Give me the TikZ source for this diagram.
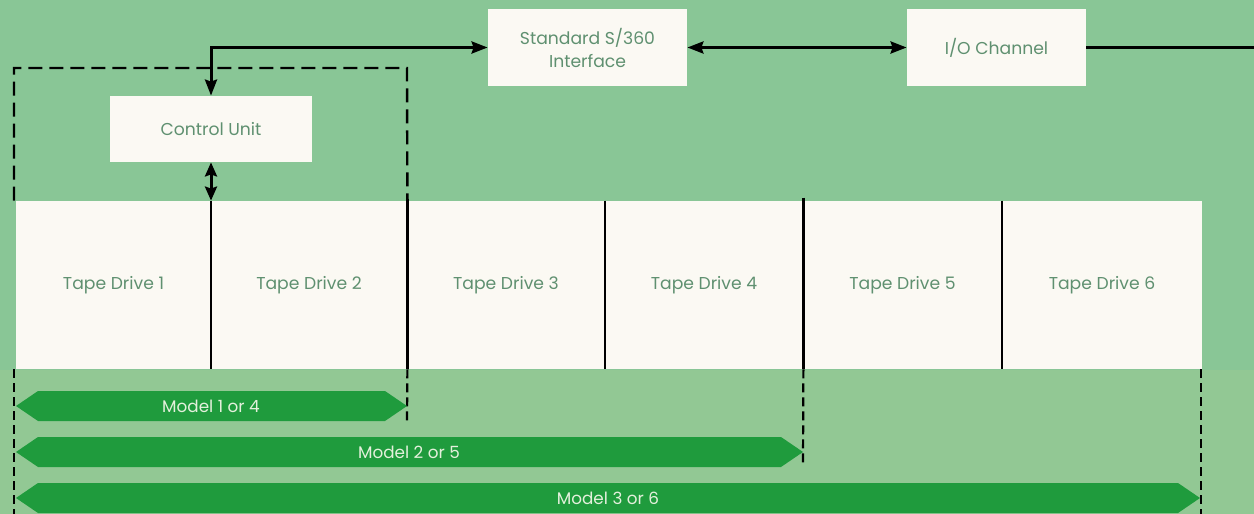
\documentclass[tikz,border=0pt]{standalone}
\usepackage{fontspec}
\setmainfont{Poppins}
\usetikzlibrary{arrows.meta,calc}
\definecolor{bgtop}{HTML}{89C696}
\definecolor{bgbot}{HTML}{92C894}
\definecolor{boxfill}{HTML}{FBF9F3}
\definecolor{txt}{HTML}{5F9070}
\definecolor{band}{HTML}{1F9B3D}
\definecolor{bandtxt}{HTML}{E4F0DC}
\begin{document}
\begin{tikzpicture}[x=0.5pt,y=-0.5pt,
  >={Stealth[length=8pt,width=6pt,inset=1pt]},
  box/.style={fill=boxfill, inner sep=0pt, text=txt, font=\fontsize{8.6}{11.5}\selectfont, align=center},
  tape/.style={box, minimum height=84pt},
  conn/.style={draw=black, line width=1.5pt},
  thindiv/.style={draw=black, line width=1pt},
  thickdiv/.style={draw=black, line width=1.9pt},
  dashtop/.style={draw=black, line width=1.2pt, dash pattern=on 7pt off 3.5pt},
  dashlow/.style={draw=black, line width=1.1pt, dash pattern=on 4.5pt off 2.5pt},
  bandtext/.style={text=bandtxt, font=\fontsize{8.4}{10}\selectfont, inner sep=0pt}
]
% background
\useasboundingbox (0,0) rectangle (1254,514);
\fill[bgtop] (0,0) rectangle (1254,370);
\fill[bgbot] (0,370) rectangle (1254,514);

% top boxes
\node[box, minimum width=99.5pt, minimum height=38.5pt] (si) at (587.5,47.5) {Standard S/360\\Interface};
\node[box, minimum width=89.5pt, minimum height=38.5pt] (io) at (996.5,47.5) {I/O Channel};
\node[box, minimum width=101pt, minimum height=33pt] (cu) at (211,129) {Control Unit};

% tape drives
\node[tape, minimum width=97.5pt] (td1) at (113.5,285) {Tape Drive 1};
\node[tape, minimum width=98pt] (td2) at (309,285) {Tape Drive 2};
\node[tape, minimum width=99pt] (td3) at (506,285) {Tape Drive 3};
\node[tape, minimum width=99pt] (td4) at (704,285) {Tape Drive 4};
\node[tape, minimum width=99.5pt] (td5) at (902.5,285) {Tape Drive 5};
\node[tape, minimum width=100pt] (td6) at (1102,285) {Tape Drive 6};

% dividers
\draw[thindiv] (td1.north east) -- (td1.south east);
\draw[thindiv] (td3.north east) -- (td3.south east);
\draw[thindiv] (td5.north east) -- (td5.south east);
\draw[thickdiv] ($(td2.north east)+(0,-2)$) -- (td2.south east);
\draw[thickdiv] ($(td4.north east)+(0,-3)$) -- (td4.south east);

% dashed frame and limits
\coordinate (dTL) at (14,68);
\coordinate (dTR) at (407,68);
\coordinate (dBL) at (14,514);
\coordinate (m1end) at (407,421);
\coordinate (m2end) at (803,467);
\coordinate (m3end) at (1201,514);
\draw[dashtop] (td1.north west -| dTL) -- (dTL) -- (dTR) -- (td2.north east);
\draw[dashlow] (td1.south west -| dTL) -- (dBL);
\draw[dashlow] (td2.south east) -- (m1end);
\draw[dashlow] (td4.south east) -- (m2end);
\draw[dashlow] (td6.south east -| m3end) -- (m3end);

% connectors
\draw[conn,<->] (cu.north) |- (si.west);
\draw[conn,<->] (si.east) -- (io.west);
\coordinate (out) at (1254,47.5);
\draw[conn] (io.east) -- (out);
\draw[conn,<->,>={Stealth[length=7pt,width=6pt,inset=1pt]}] (cu.south) -- (cu.south |- td1.north);

% model bands
\fill[band] (16,406) -- (38,391) -- (385,391) -- (407,406) -- (385,421) -- (38,421) -- cycle;
\node[bandtext] (m1) at (211,406) {Model 1 or 4};
\fill[band] (16,452) -- (38,437) -- (781,437) -- (803,452) -- (781,467) -- (38,467) -- cycle;
\node[bandtext] (m2) at (409,452) {Model 2 or 5};
\fill[band] (16,498) -- (38,483) -- (1178,483) -- (1200,498) -- (1178,513) -- (38,513) -- cycle;
\node[bandtext] (m3) at (608,498) {Model 3 or 6};
\end{tikzpicture}
\end{document}
